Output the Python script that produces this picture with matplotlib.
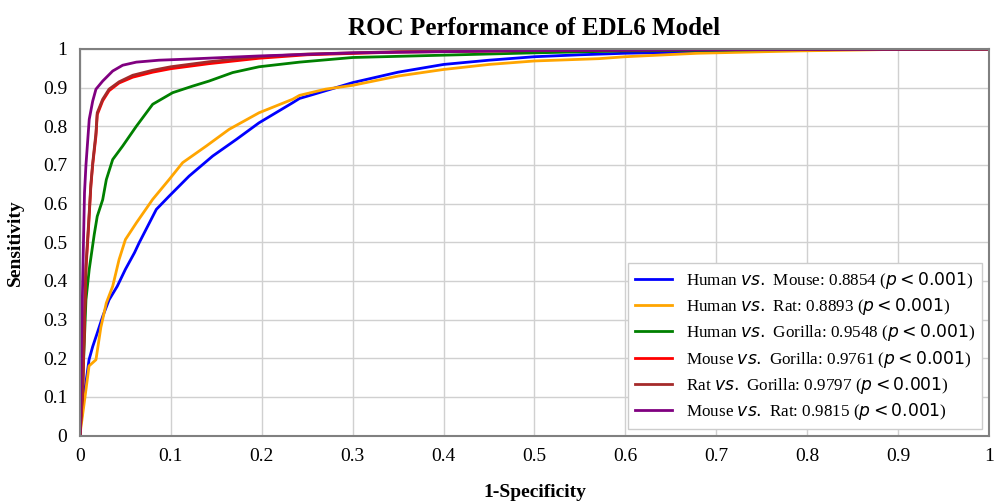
import numpy as np
import matplotlib.pyplot as plt

plt.rcParams['font.family'] = ['Liberation Serif', 'DejaVu Serif']
plt.rcParams['mathtext.fontset'] = 'dejavusans'

# ROC points (fpr, tpr)
hm_fpr = [0, 0.001, 0.005, 0.010, 0.014, 0.019, 0.025, 0.032, 0.041, 0.050, 0.060, 0.065, 0.084, 0.098,
          0.120, 0.146, 0.172, 0.197, 0.234, 0.2415, 0.256, 0.30, 0.35, 0.40, 0.45, 0.50, 0.55, 0.60, 0.68,
          0.75, 0.85, 1.0]
hm_tpr = [0, 0.03, 0.11, 0.196, 0.23, 0.265, 0.308, 0.351, 0.386, 0.43, 0.473, 0.498, 0.585, 0.619,
          0.671, 0.723, 0.766, 0.809, 0.861, 0.872, 0.882, 0.913, 0.94, 0.96, 0.971, 0.980, 0.985, 0.989, 0.992,
          0.996, 0.999, 1.0]

hr_fpr = [0, 0.001, 0.005, 0.010, 0.0176, 0.023, 0.029, 0.036, 0.043, 0.050, 0.062, 0.080, 0.098, 0.113,
          0.139, 0.164, 0.197, 0.234, 0.2415, 0.27, 0.30, 0.35, 0.40, 0.45, 0.50, 0.571, 0.60, 0.68, 0.79,
          0.90, 1.0]
hr_tpr = [0, 0.02, 0.09, 0.18, 0.196, 0.28, 0.343, 0.386, 0.455, 0.507, 0.55, 0.611, 0.662, 0.706,
          0.749, 0.792, 0.835, 0.87, 0.88, 0.896, 0.906, 0.93, 0.947, 0.96, 0.969, 0.975, 0.980, 0.989, 0.995,
          0.999, 1.0]

hg_fpr = [0, 0.0026, 0.0066, 0.0102, 0.0157, 0.019, 0.025, 0.029, 0.036, 0.047, 0.062, 0.080, 0.102,
          0.124, 0.142, 0.168, 0.197, 0.2415, 0.30, 0.40, 0.50, 0.60, 0.75, 1.0]
hg_tpr = [0, 0.11, 0.351, 0.43, 0.52, 0.567, 0.61, 0.662, 0.714, 0.749, 0.80, 0.857, 0.887,
          0.904, 0.917, 0.939, 0.954, 0.966, 0.978, 0.984, 0.99, 0.995, 0.998, 1.0]

mg_fpr = [0, 0.003, 0.005, 0.0066, 0.0095, 0.012, 0.014, 0.0176, 0.019, 0.025, 0.032, 0.043, 0.058,
          0.080, 0.10, 0.142, 0.197, 0.25, 0.35, 0.50, 0.70, 1.0]
mg_tpr = [0, 0.11, 0.30, 0.43, 0.54, 0.645, 0.70, 0.775, 0.83, 0.866, 0.892, 0.912, 0.927,
          0.94, 0.949, 0.962, 0.976, 0.985, 0.992, 0.996, 0.999, 1.0]

rg_fpr = [0, 0.003, 0.005, 0.0066, 0.0095, 0.012, 0.014, 0.0176, 0.019, 0.025, 0.032, 0.043, 0.058,
          0.080, 0.10, 0.142, 0.197, 0.25, 0.35, 0.50, 0.70, 1.0]
rg_tpr = [0, 0.12, 0.31, 0.44, 0.55, 0.65, 0.705, 0.783, 0.835, 0.87, 0.896, 0.915, 0.932,
          0.945, 0.954, 0.967, 0.98, 0.987, 0.993, 0.997, 0.999, 1.0]

mr_fpr = [0, 0.002, 0.0036, 0.005, 0.0066, 0.0102, 0.014, 0.0176, 0.025, 0.036, 0.047, 0.062, 0.087,
          0.12, 0.197, 0.30, 0.50, 0.80, 1.0]
mr_tpr = [0, 0.28, 0.47, 0.628, 0.70, 0.818, 0.865, 0.896, 0.917, 0.943, 0.958, 0.966, 0.971,
          0.974, 0.982, 0.99, 0.996, 0.999, 1.0]

labels = [
    r'Human $vs.$ Mouse: 0.8854 ($p < 0.001$)',
    r'Human $vs.$ Rat: 0.8893 ($p < 0.001$)',
    r'Human $vs.$ Gorilla: 0.9548 ($p < 0.001$)',
    r'Mouse $vs.$ Gorilla: 0.9761 ($p < 0.001$)',
    r'Rat $vs.$ Gorilla: 0.9797 ($p < 0.001$)',
    r'Mouse $vs.$ Rat: 0.9815 ($p < 0.001$)',
]
colors = ['blue', 'orange', 'green', 'red', 'brown', 'purple']
curves = [(hm_fpr, hm_tpr), (hr_fpr, hr_tpr), (hg_fpr, hg_tpr),
          (mg_fpr, mg_tpr), (rg_fpr, rg_tpr), (mr_fpr, mr_tpr)]

fig = plt.figure(figsize=(9.97, 5.04), dpi=100)
ax = fig.add_axes([0.0802, 0.1359, 0.9118, 0.7669])

for (fx, ty), c, lab in zip(curves, colors, labels):
    ax.plot(fx, ty, color=c, lw=2, label=lab)

ticks = np.round(np.arange(0, 1.01, 0.1), 1)
ticklabels = ['0'] + ['%.1f' % t for t in ticks[1:-1]] + ['1']
ax.set_xticks(ticks)
ax.set_xticklabels(ticklabels)
ax.set_yticks(ticks)
ax.set_yticklabels(ticklabels)
ax.set_xlim(0, 1)
ax.set_ylim(0, 1)
ax.tick_params(length=0, labelsize=14, pad=9)
ax.grid(True, color='#d0d0d0', lw=1)
ax.set_axisbelow(True)
for s in ax.spines.values():
    s.set_color('#808080')
    s.set_linewidth(1.5)

ax.set_title('ROC Performance of EDL6 Model', fontsize=18, fontweight='bold', pad=10)
ax.set_xlabel('1-Specificity', fontsize=14, fontweight='bold', labelpad=14)
ax.set_ylabel('Sensitivity', fontsize=14, fontweight='bold', labelpad=14)

leg = ax.legend(loc='lower right', fontsize=12.3, fancybox=False, framealpha=1,
                edgecolor='#cccccc', borderaxespad=0.4, labelspacing=0.3,
                handlelength=2.2)

fig.savefig('out.png', dpi=100)
